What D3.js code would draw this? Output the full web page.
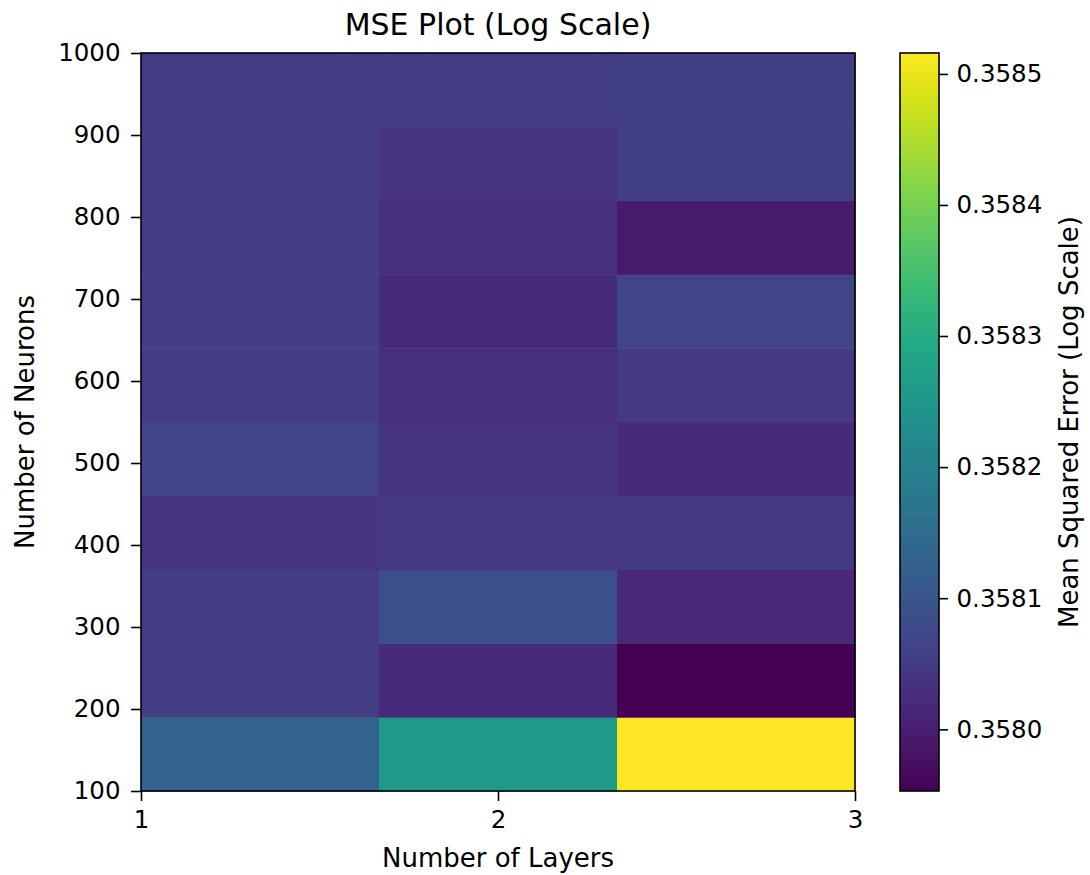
<!DOCTYPE html>
<html>
<head>
<meta charset="utf-8">
<script src="https://cdn.jsdelivr.net/npm/d3@7"></script>
<style>
  body { margin: 0; background: #fff; }
  svg text { font-family: "DejaVu Sans", sans-serif; fill: #000; }
</style>
</head>
<body>
<svg id="chart" width="1090" height="875"></svg>
<script>
// layer counts (columns) and neuron counts (rows, bottom to top)
var layers = [1, 2, 3];
var neurons = [100, 200, 300, 400, 500, 600, 700, 800, 900, 1000];

// mean squared error, one array per layer, ordered like neurons
var mseLayer1 = [0.358128, 0.358052, 0.358052, 0.358040, 0.358066, 0.358054, 0.358054, 0.358054, 0.358054, 0.358052];
var mseLayer2 = [0.358257, 0.358021, 0.358088, 0.358043, 0.358038, 0.358032, 0.358021, 0.358032, 0.358038, 0.358052];
var mseLayer3 = [0.358516, 0.357953, 0.358018, 0.358049, 0.358021, 0.358049, 0.358066, 0.357992, 0.358057, 0.358057];

var xTicks = [1, 2, 3];
var yTicks = [100, 200, 300, 400, 500, 600, 700, 800, 900, 1000];
var cbarTicks = [0.3580, 0.3581, 0.3582, 0.3583, 0.3584, 0.3585];

var svg = d3.select('#chart'),
    plot = { left: 141, right: 855, top: 53, bottom: 791 },
    cbar = { left: 900, right: 939 };

var cells = [];
[mseLayer1, mseLayer2, mseLayer3].forEach(function (col, i) {
  col.forEach(function (v, j) {
    cells.push({ layer: layers[i], col: i, row: j, value: v });
  });
});

var extent = d3.extent(cells, function (d) { return d.value; });
var norm = d3.scaleLog().domain(extent).range([0, 1]);
var color = function (v) { return d3.interpolateViridis(norm(v)); };

var x = d3.scaleLinear().domain(d3.extent(layers)).range([plot.left, plot.right]);
var y = d3.scaleLinear().domain(d3.extent(neurons)).range([plot.bottom, plot.top]);
var colW = (x.domain()[1] - x.domain()[0]) / layers.length;
var rowH = (y.domain()[1] - y.domain()[0]) / neurons.length;

// heatmap cells
svg.append('g').selectAll('rect').data(cells).enter().append('rect')
  .attr('x', function (d) { return x(x.domain()[0] + d.col * colW); })
  .attr('width', function (d) { return x(x.domain()[0] + (d.col + 1) * colW) - x(x.domain()[0] + d.col * colW) + 0.5; })
  .attr('y', function (d) { return y(y.domain()[0] + (d.row + 1) * rowH); })
  .attr('height', function (d) { return y(y.domain()[0] + d.row * rowH) - y(y.domain()[0] + (d.row + 1) * rowH) + 0.5; })
  .attr('fill', function (d) { return color(d.value); });

function styleAxis(g) {
  g.selectAll('.domain').remove();
  g.selectAll('.tick line').attr('stroke', '#000').attr('stroke-width', 1.6);
  g.selectAll('.tick text').attr('font-size', 24.5).attr('fill', '#000');
}

var xAxis = svg.append('g').attr('transform', 'translate(0,' + plot.bottom + ')')
  .call(d3.axisBottom(x).tickValues(xTicks).tickFormat(d3.format('d')).tickSize(10).tickPadding(10));
styleAxis(xAxis);

var yAxis = svg.append('g').attr('transform', 'translate(' + plot.left + ',0)')
  .call(d3.axisLeft(y).tickValues(yTicks).tickFormat(d3.format('d')).tickSize(10).tickPadding(10.5));
styleAxis(yAxis);

svg.append('rect')
  .attr('x', plot.left).attr('y', plot.top)
  .attr('width', plot.right - plot.left).attr('height', plot.bottom - plot.top)
  .attr('fill', 'none').attr('stroke', '#000').attr('stroke-width', 1.6);

// colorbar
var grad = svg.append('defs').append('linearGradient')
  .attr('id', 'cbar-grad').attr('x1', 0).attr('y1', 1).attr('x2', 0).attr('y2', 0);
grad.selectAll('stop').data(d3.range(0, 1.0001, 0.02)).enter().append('stop')
  .attr('offset', function (t) { return t; })
  .attr('stop-color', function (t) { return d3.interpolateViridis(t); });

var cy = d3.scaleLog().domain(extent).range([plot.bottom, plot.top]);

svg.append('rect')
  .attr('x', cbar.left).attr('y', plot.top)
  .attr('width', cbar.right - cbar.left).attr('height', plot.bottom - plot.top)
  .attr('fill', 'url(#cbar-grad)').attr('stroke', '#000').attr('stroke-width', 1.6);

var cAxis = svg.append('g').attr('transform', 'translate(' + cbar.right + ',0)')
  .call(d3.axisRight(cy).tickValues(cbarTicks).tickFormat(d3.format('.4f')).tickSize(9).tickPadding(8.5));
styleAxis(cAxis);

// titles
svg.append('text').attr('x', (plot.left + plot.right) / 2).attr('y', 35)
  .attr('text-anchor', 'middle').attr('font-size', 30).text('MSE Plot (Log Scale)');

svg.append('text').attr('x', (plot.left + plot.right) / 2).attr('y', 867)
  .attr('text-anchor', 'middle').attr('font-size', 26).text('Number of Layers');

svg.append('text').attr('transform', 'translate(34,' + (plot.top + plot.bottom) / 2 + ') rotate(-90)')
  .attr('text-anchor', 'middle').attr('font-size', 26).text('Number of Neurons');

svg.append('text').attr('transform', 'translate(1078,' + (plot.top + plot.bottom) / 2 + ') rotate(-90)')
  .attr('text-anchor', 'middle').attr('font-size', 26).text('Mean Squared Error (Log Scale)');
</script>
</body>
</html>
